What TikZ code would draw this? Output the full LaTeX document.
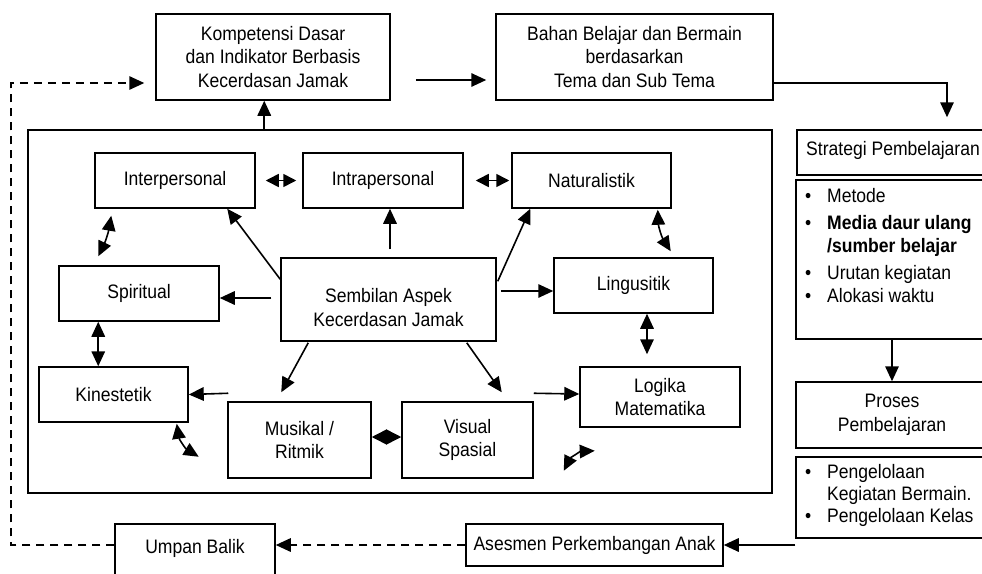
\documentclass[tikz,border=0pt]{standalone}
\usepackage{fontspec}
\setmainfont{Liberation Sans}[FakeStretch=0.9]
\usetikzlibrary{arrows.meta,calc}
\newcommand\fsz{\fontsize{19.5}{23.5}\selectfont}
\newcommand\dnr[1]{\rule{0pt}{#1}}
\begin{document}
\begin{tikzpicture}[x=1pt,y=-1pt,
  box/.style={draw, line width=1.5pt, inner sep=0pt, align=center, font=\fsz},
  txt/.style={inner sep=0pt, anchor=base west, font=\fsz},
  tipa/.tip={Triangle[length=15pt,width=13.5pt]},
  tipb/.tip={Triangle[length=13pt,width=13pt]},
  arr/.style={line width=1.6pt, -tipa},
  darr/.style={line width=1.6pt, tipa-tipa},
  sdarr/.style={line width=1.6pt, tipb-tipb},
  dsh/.style={line width=1.5pt, dash pattern=on 8pt off 6pt}]
\useasboundingbox (0,0) rectangle (982,573);
\clip (0,0) rectangle (982,573);
\fill[white] (0,0) rectangle (982,573);

% top row
\node[box, minimum width=234pt, minimum height=86pt] (komp) at (273,57)
  {Kompetensi Dasar\\dan Indikator Berbasis\\Kecerdasan Jamak};
\node[box, minimum width=277pt, minimum height=86pt] (bahan) at (634.5,57)
  {Bahan Belajar dan Bermain\\berdasarkan\\Tema dan Sub Tema};

% inner frame
\node[draw, line width=1.5pt, minimum width=744pt, minimum height=363pt, inner sep=0pt] (inner) at (400,311.5) {};

% intelligences
\node[box, minimum width=160pt, minimum height=55pt] (inter) at (175,180.5) {Interpersonal};
\node[box, minimum width=160pt, minimum height=55pt] (intra) at (383,180.5) {Intrapersonal};
\node[box, minimum width=159pt, minimum height=55pt] (natur) at (591.5,180.5) {Naturalistik};
\node[box, minimum width=160pt, minimum height=55pt] (spir) at (139,293.5) {Spiritual};
\node[box, minimum width=215pt, minimum height=83pt] (sem) at (388.5,299.5)
  {\dnr{30pt}Sembilan Aspek\\Kecerdasan Jamak};
\node[box, minimum width=159pt, minimum height=55pt] (ling) at (633.5,285.5) {Lingusitik};
\node[box, minimum width=149pt, minimum height=55pt] (kin) at (113.5,394.5) {Kinestetik};
\node[box, minimum width=143pt, minimum height=76pt] (mus) at (299.5,440) {Musikal /\\Ritmik};
\node[box, minimum width=131pt, minimum height=76pt] (vis) at (467.5,440) {Visual\\Spasial};
\node[box, minimum width=160pt, minimum height=60pt] (log) at (660,397) {Logika\\Matematika};

% right column
\node[box, minimum width=191pt, minimum height=45pt] (strat) at (892.5,152.5) {};
\node[txt] at (806,155) {Strategi Pembelajaran};
\node[box, minimum width=192pt, minimum height=159pt] (met) at (892,259.5) {};
\node[txt] at (805,202) {\textbullet};
\node[txt] at (827,202) {Metode};
\node[txt] at (805,229) {\textbullet};
\node[txt] at (827,229) {\bfseries Media daur ulang};
\node[txt] at (827,252) {\bfseries /sumber belajar};
\node[txt] at (805,279) {\textbullet};
\node[txt] at (827,279) {Urutan kegiatan};
\node[txt] at (805,302) {\textbullet};
\node[txt] at (827,302) {Alokasi waktu};
\node[box, minimum width=192pt, minimum height=66pt] (pros) at (892,415) {Proses\\Pembelajaran};
\node[box, minimum width=192pt, minimum height=81pt] (peng) at (892,497.5) {};
\node[txt] at (805,478) {\textbullet};
\node[txt] at (827,478) {Pengelolaan};
\node[txt] at (827,500) {Kegiatan Bermain.};
\node[txt] at (805,522) {\textbullet};
\node[txt] at (827,522) {Pengelolaan Kelas};

% bottom row
\node[box, minimum width=257pt, minimum height=42pt] (ases) at (594.5,545) {Asesmen Perkembangan Anak};
\node[box, minimum width=160pt, minimum height=64pt] (ub) at (195,556) {Umpan Balik\rule[-20pt]{0pt}{20pt}};

% coordinates for free ends
\coordinate (fbc) at (11,83);
\coordinate (fbe) at ($(komp.west)+(-11,26)$);

% top connectors
\draw[arr] ($(inner.north west)+(237,0)$) -- ($(komp.south west)+(109,0)$);
\draw[arr] ($(komp.east)+(25,23)$) -- ($(bahan.west)+(-9,23)$);
\draw[arr] ($(bahan.east)+(0,26)$) -| ($(strat.north)+(54.5,-12)$);
\draw[arr] (met.south) -- (pros.north);
\draw[arr] (ases.east -| peng.west) -- (ases.east);
\draw[dsh,-tipa] (ases.west) -- (ases.west -| ub.east);
\draw[dsh,-tipa] (ases.west -| ub.west) -| (fbc) -- (fbe);

% from the centre box
\draw[arr] ($(sem.north west)+(0,22)$) -- ($(inter.south west)+(133,0)$);
\draw[arr] ($(sem.north)+(1.5,-8)$) -- ($(intra.south)+(7,0)$);
\draw[arr] ($(sem.north east)+(1,24)$) -- ($(natur.south west)+(19,0)$);
\draw[arr] ($(sem.east)+(4,-8.5)$) -- ($(ling.west)+(0,5.5)$);
\draw[arr] ($(sem.west)+(-9,-1.5)$) -- ($(spir.east)+(0,4.5)$);
\draw[arr] ($(sem.south west)+(28,1)$) -- ($(mus.north west)+(54,-9)$);
\draw[arr] ($(sem.south east)+(-30,1)$) -- ($(vis.north east)+(-32,-9)$);
\draw[arr] ($(mus.north west)+(1,-8)$) -- (kin.east);
\draw[arr] ($(vis.north east)+(0,-8)$) -- ($(log.west)+(0,-3)$);

% double arrows
\draw[sdarr] ($(inter.east)+(10,0)$) -- ($(intra.west)+(-6,0)$);
\draw[sdarr] ($(intra.east)+(12,0)$) -- ($(natur.west)+(-2,0)$);
\draw[line width=1.5pt, {Triangle[length=15pt,width=15pt]}-{Triangle[length=15pt,width=15pt]}]
  ($(mus.east)+(0,-3)$) -- ($(vis.west)+(0,-3)$);
\draw[darr] ($(ling.south)+(13.5,0)$) -- ($(log.north)+(-13,-12)$);
\draw[darr] ($(spir.south west)+(40,0)$) -- ($(kin.north west)+(60,0)$);
\draw[darr] ($(inter.south west)+(17,7)$) to[bend left=8] ($(spir.north west)+(40,-9)$);
\draw[darr] ($(natur.south east)+(-14,1)$) to[bend right=15] ($(ling.north east)+(-43,-6)$);
\draw[darr] ($(kin.south east)+(-12,1)$) to[bend right=25] ($(kin.south east)+(10,34)$);
\draw[darr] ($(vis.south east)+(30,-8)$) to[bend left=30] ($(vis.south east)+(61,-28)$);
\end{tikzpicture}
\end{document}
